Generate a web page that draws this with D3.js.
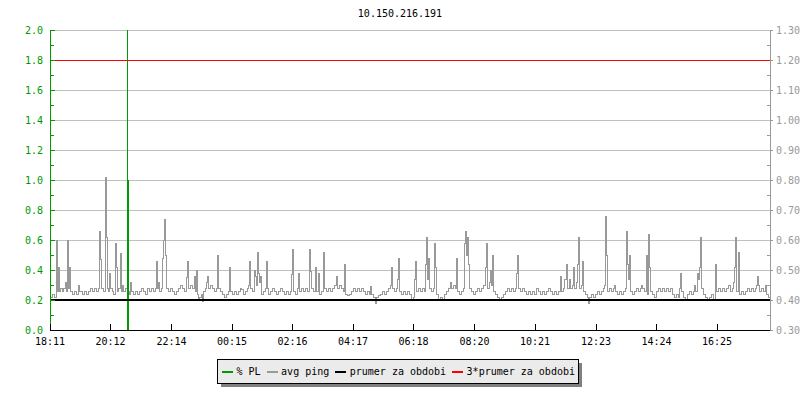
<!DOCTYPE html>
<html>
<head>
<meta charset="utf-8">
<script src="https://cdn.jsdelivr.net/npm/d3@7"></script>
<style>
  body { margin: 0; background: #fff; }
  text { font-family: "DejaVu Sans Mono", monospace; font-size: 10px; }
</style>
</head>
<body>
<div id="graph"></div>
<script>
// chart data
const title = "10.150.216.191";
const timeLabels = ["18:11","20:12","22:14","00:15","02:16","04:17","06:18","08:20","10:21","12:23","14:24","16:25"];
const plTicks = [0.0,0.2,0.4,0.6,0.8,1.0,1.2,1.4,1.6,1.8,2.0];
const pingTicks = [0.30,0.40,0.50,0.60,0.70,0.80,0.90,1.00,1.10,1.20,1.30];
const legendNames = ["% PL","avg ping","prumer za obdobi","3*prumer za obdobi"];
const meanPing = 0.40;          // ms, "prumer za obdobi"
const sampleMin = 2;            // minutes per sample
const spanMin = 1440;

// [sample, avg ping ms]
const pingData = [
[0,.41],[2,.42],[4,.41],[6,.60],[7,.43],[8,.51],[9,.43],[10,.44],[12,.43],[13,.44],[15,.46],[16,.43],[17,.60],[18,.44],[19,.51],[20,.43],[22,.42],[24,.43],[26,.42],[28,.45],[29,.43],[32,.42],[34,.43],[36,.42],[38,.43],[40,.44],[42,.43],[44,.44],[46,.43],[48,.44],[49,.63],[50,.535],[51,.44],[53,.43],[55,.81],[56,.61],[57,.44],[58,.43],[59,.49],[60,.44],[62,.43],[63,.42],[65,.59],[66,.51],[67,.43],[68,.44],[70,.555],[71,.43],[72,.45],[73,.43],[75,.44],[77,.43],[79,.42],[80,.46],[81,.43],[83,.42],[85,.43],[87,.42],[89,.43],[91,.44],[93,.43],[95,.42],[97,.44],[99,.43],[101,.44],[103,.43],[105,.44],[106,.53],[107,.44],[108,.46],[109,.43],[111,.44],[112,.54],[113,.60],[114,.67],[115,.55],[116,.44],[118,.43],
[120,.44],[122,.43],[124,.42],[126,.43],[128,.44],[130,.45],[132,.44],[134,.43],[136,.475],[137,.53],[138,.44],[140,.45],[142,.44],[144,.48],[145,.43],[146,.50],[147,.42],[148,.40],[149,.41],[151,.42],[152,.395],[153,.43],[155,.44],[156,.46],[157,.48],[158,.44],[160,.45],[162,.44],[164,.43],[166,.44],[167,.55],[168,.44],[170,.43],[172,.42],[174,.41],[176,.42],[178,.43],[179,.51],[180,.43],[182,.42],[184,.43],[186,.42],[188,.43],[190,.44],[191,.435],[193,.42],[195,.43],[197,.44],[198,.45],[199,.53],[200,.44],[202,.43],[204,.50],[205,.48],[206,.45],[207,.56],[208,.49],[209,.46],[210,.48],[211,.42],[213,.43],[215,.44],[216,.53],[217,.44],[218,.42],
[220,.43],[222,.44],[224,.43],[226,.42],[228,.43],[230,.44],[232,.43],[234,.42],[236,.43],[238,.42],[240,.43],[241,.485],[242,.57],[243,.43],[245,.42],[247,.44],[248,.49],[249,.43],[251,.44],[253,.43],[255,.44],[257,.43],[259,.57],[260,.495],[261,.44],[263,.43],[265,.51],[266,.43],[268,.49],[269,.42],[271,.43],[273,.56],[274,.44],[276,.43],[278,.44],[280,.43],[282,.44],[284,.45],[286,.48],[287,.44],[289,.45],[291,.44],[293,.43],[294,.52],[295,.42],[297,.415],[299,.42],[301,.43],[303,.44],[305,.43],[307,.44],[309,.43],[311,.44],[313,.43],[315,.42],[317,.43],[319,.42],[320,.445],[321,.42],[323,.41],[325,.39],[326,.41],[328,.415],[330,.42],[332,.43],[334,.42],[336,.43],[338,.44],[340,.45],[341,.51],[342,.44],[344,.43],[346,.44],[347,.47],[348,.54],[349,.43],[351,.42],[353,.43],[355,.42],[357,.43],[359,.42],
[360,.42],[361,.40],[363,.41],[364,.47],[365,.53],[366,.43],[368,.44],[370,.43],[372,.44],[374,.43],[375,.52],[376,.61],[377,.47],[378,.54],[379,.44],[381,.43],[383,.44],[384,.59],[385,.51],[386,.42],[388,.40],[390,.41],[392,.40],[394,.42],[396,.43],[398,.44],[400,.46],[401,.44],[403,.45],[405,.44],[406,.54],[407,.43],[409,.42],[411,.43],[413,.44],[414,.59],[415,.63],[416,.55],[417,.61],[418,.52],[419,.44],[421,.43],[423,.42],[425,.43],[427,.44],[429,.43],[431,.44],[433,.45],[435,.51],[436,.59],[437,.44],[439,.46],[440,.50],[441,.45],[442,.55],[443,.43],[445,.42],[447,.41],[449,.40],[451,.41],[453,.42],[455,.43],[457,.44],[459,.43],[461,.44],[463,.43],[465,.44],[466,.49],[467,.55],[468,.44],[470,.43],[472,.44],[474,.43],[476,.42],[478,.43],
[480,.42],[482,.43],[484,.42],[486,.44],[488,.43],[490,.42],[492,.43],[494,.42],[496,.43],[498,.44],[500,.43],[502,.42],[504,.43],[506,.42],[508,.43],[510,.48],[511,.43],[513,.44],[514,.47],[516,.52],[517,.44],[519,.47],[520,.44],[522,.45],[523,.51],[524,.44],[526,.46],[527,.52],[528,.61],[529,.44],[531,.45],[532,.53],[533,.43],[535,.42],[537,.41],[538,.39],[539,.41],[541,.42],[543,.41],[545,.42],[547,.43],[549,.42],[551,.43],[553,.44],[554,.45],[555,.68],[556,.55],[557,.43],[559,.44],[561,.43],[563,.44],[564,.45],[565,.43],[567,.42],[569,.43],[571,.42],[573,.43],[575,.44],[576,.63],[577,.52],[578,.47],[579,.55],[580,.43],[582,.42],[584,.43],[586,.44],[588,.43],[590,.44],[591,.45],[592,.44],[594,.43],[596,.55],[597,.42],[598,.62],[599,.51],[600,.43],
[602,.42],[604,.41],[606,.43],[608,.44],[610,.43],[612,.44],[614,.43],[616,.44],[618,.43],[620,.44],[622,.42],[624,.41],[626,.42],[628,.41],[629,.44],[630,.49],[631,.43],[633,.41],[635,.40],[637,.42],[639,.43],[641,.42],[643,.43],[644,.45],[645,.43],[647,.49],[648,.47],[649,.51],[650,.61],[651,.44],[653,.42],[655,.41],[657,.40],[659,.41],[661,.42],[663,.40],[665,.52],[666,.43],[668,.44],[670,.43],[672,.44],[674,.43],[676,.44],[678,.45],[680,.43],[682,.44],[683,.46],[684,.51],[685,.61],[686,.43],[688,.56],[689,.42],[691,.43],[693,.42],[695,.43],[697,.44],[699,.43],[701,.44],[703,.43],[705,.44],[706,.45],[707,.48],[708,.45],[709,.43],[711,.44],[713,.43],[715,.45],[716,.42],[718,.41],[720,.41]
];

// [sample, % PL]
const plData = [[0,0],[77,2.5],[77.5,1.0],[78,0],[720,0]];

const WIDTH = 800, HEIGHT = 400
const MARGIN = {TOP: 30, RIGHT: 30, BOTTOM: 70, LEFT: 50}
const GREEN = "#009900", GREY = "#999999", GRID = "#c0c0c0"

const svg = d3.select("#graph").append("svg")
  .attr("width", WIDTH)
  .attr("height", HEIGHT)
  .attr("shape-rendering", "crispEdges")

const x = d3.scaleLinear().domain([0, spanMin]).range([MARGIN.LEFT, WIDTH - MARGIN.RIGHT])
const yL = d3.scaleLinear().domain([0, 2]).range([HEIGHT - MARGIN.BOTTOM, MARGIN.TOP])
const yR = d3.scaleLinear().domain([0.3, 1.3]).range([HEIGHT - MARGIN.BOTTOM, MARGIN.TOP])

// minutes after the first label
function toMin(lbl) {
  const p = lbl.split(":").map(Number), s = timeLabels[0].split(":").map(Number)
  return ((p[0] * 60 + p[1]) - (s[0] * 60 + s[1]) + 1440) % 1440
}

svg.append("text")
  .attr("x", WIDTH / 2)
  .attr("y", 17)
  .attr("text-anchor", "middle")
  .text(title)

// grid
svg.selectAll("grid")
  .data(plTicks.filter(d => d > 0))
  .enter()
  .append("line")
    .attr("x1", x(0)).attr("x2", x(spanMin))
    .attr("y1", d => yL(d)).attr("y2", d => yL(d))
    .attr("stroke", GRID)

svg.append("defs").append("clipPath").attr("id", "plot")
  .append("rect")
    .attr("x", x(0)).attr("y", yL(2))
    .attr("width", x(spanMin) - x(0)).attr("height", yL(0) - yL(2))

const plot = svg.append("g").attr("clip-path", "url(#plot)")

plot.append("path")
  .datum(pingData)
  .attr("fill", "none")
  .attr("stroke", GREY)
  .attr("stroke-width", 1)
  .attr("d", d3.line().curve(d3.curveStepAfter)
    .x(d => x(d[0] * sampleMin))
    .y(d => yR(d[1])))

plot.append("path")
  .datum(plData)
  .attr("fill", "none")
  .attr("stroke", GREEN)
  .attr("stroke-width", 1)
  .attr("d", d3.line().curve(d3.curveStepAfter)
    .x(d => x(d[0] * sampleMin))
    .y(d => yL(d[1])))

// mean and 3*mean
svg.append("line")
  .attr("x1", x(0)).attr("x2", x(spanMin))
  .attr("y1", yR(meanPing)).attr("y2", yR(meanPing))
  .attr("stroke", "black").attr("stroke-width", 2)

svg.append("line")
  .attr("x1", x(0)).attr("x2", x(spanMin))
  .attr("y1", yR(3 * meanPing)).attr("y2", yR(3 * meanPing))
  .attr("stroke", "red").attr("stroke-width", 1)

// left axis (% PL)
svg.append("line")
  .attr("x1", x(0)).attr("x2", x(0))
  .attr("y1", yL(0)).attr("y2", yL(2))
  .attr("stroke", GREEN)

svg.selectAll("ltick")
  .data(d3.range(0, 21).map(i => i / 10))
  .enter()
  .append("line")
    .attr("x1", x(0)).attr("x2", (d, i) => x(0) + (i % 2 ? 4 : 5))
    .attr("y1", d => yL(d)).attr("y2", d => yL(d))
    .attr("stroke", GREEN)

svg.selectAll("llabel")
  .data(plTicks)
  .enter()
  .append("text")
    .attr("x", x(0) - 7)
    .attr("y", d => yL(d) + 4)
    .attr("text-anchor", "end")
    .attr("fill", GREEN)
    .text(d => d.toFixed(1))

// right axis (ping)
const xr = x(spanMin)
svg.append("line")
  .attr("x1", xr).attr("x2", xr)
  .attr("y1", yR(0.3)).attr("y2", yR(1.3))
  .attr("stroke", GREY)

svg.selectAll("rtick")
  .data(d3.range(0, 21).map(i => 0.3 + i / 20))
  .enter()
  .append("line")
    .attr("x1", (d, i) => i % 2 ? xr - 3 : xr).attr("x2", (d, i) => i % 2 ? xr : xr + 3)
    .attr("y1", d => yR(d)).attr("y2", d => yR(d))
    .attr("stroke", GREY)

svg.selectAll("rlabel")
  .data(pingTicks)
  .enter()
  .append("text")
    .attr("x", xr + 6)
    .attr("y", d => yR(d) + 4)
    .attr("fill", GREY)
    .text(d => d.toFixed(2))

// time axis
svg.append("line")
  .attr("x1", x(0)).attr("x2", x(spanMin))
  .attr("y1", yL(0)).attr("y2", yL(0))
  .attr("stroke", "black")

svg.selectAll("xtick")
  .data(timeLabels)
  .enter()
  .append("line")
    .attr("x1", d => x(toMin(d))).attr("x2", d => x(toMin(d)))
    .attr("y1", yL(0)).attr("y2", yL(0) - 6)
    .attr("stroke", "black")

svg.selectAll("xlabel")
  .data(timeLabels)
  .enter()
  .append("text")
    .attr("x", d => x(toMin(d)))
    .attr("y", yL(0) + 15)
    .attr("text-anchor", "middle")
    .text(d => d)

// legend
const legendColors = [GREEN, GREY, "black", "red"]
const lg = svg.append("g")
const shadow = lg.append("rect").attr("fill", "#808080")
const box = lg.append("rect").attr("fill", "#ebebeb").attr("stroke", "black")
let cx = 222
legendNames.forEach(function(name, i) {
  lg.append("line")
    .attr("x1", cx).attr("x2", cx + 11)
    .attr("y1", 372).attr("y2", 372)
    .attr("stroke", legendColors[i]).attr("stroke-width", 2)
  const t = lg.append("text")
    .attr("x", cx + 14.5)
    .attr("y", 375)
    .text(name)
  cx += 14.5 + t.node().getComputedTextLength() + 6
})
const bx = 217.5, bw = cx - 6 + 4 - bx
box.attr("x", bx).attr("y", 359.5).attr("width", bw).attr("height", 24)
shadow.attr("x", bx + 3.5).attr("y", 363).attr("width", bw).attr("height", 24)
</script>
</body>
</html>
